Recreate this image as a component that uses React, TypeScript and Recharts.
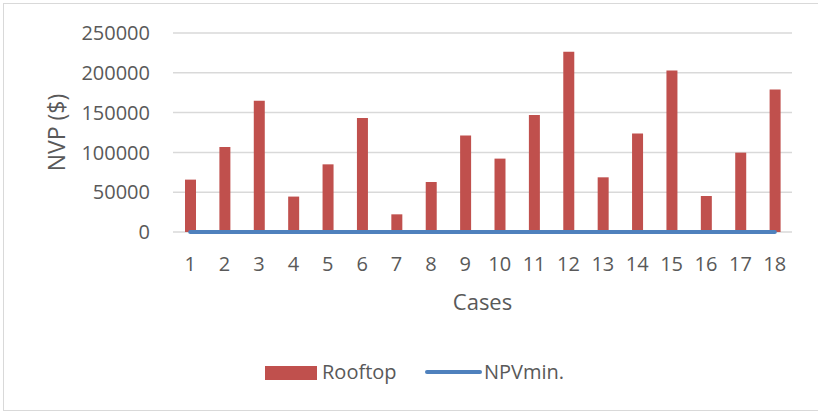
import { ComposedChart, Bar, Line, XAxis, YAxis, CartesianGrid } from "recharts";

const cases = ["1", "2", "3", "4", "5", "6", "7", "8", "9", "10", "11", "12", "13", "14", "15", "16", "17", "18"];
const rooftop = [
  65800, 106800, 165000, 44500, 85000, 143200, 22200, 62800, 121100,
  92200, 147000, 226600, 68700, 123600, 202800, 45200, 99700, 178900,
];
const npvMin = [0, 0, 0, 0, 0, 0, 0, 0, 0, 0, 0, 0, 0, 0, 0, 0, 0, 0];
const yTicks = [0, 50000, 100000, 150000, 200000, 250000];

const data = cases.map((c, i) => ({ name: c, rooftop: rooftop[i], npvMin: npvMin[i] }));

const FONT = "'Open Sans', sans-serif";
const TEXT = "#595959";

export default function App() {
  return (
    <div
      style={{
        position: "absolute",
        left: 0,
        top: 0,
        width: 818,
        height: 411,
        overflow: "hidden",
        background: "#fff",
        fontFamily: FONT,
      }}
    >
      {/* frame of the chart area */}
      <div
        style={{
          position: "absolute",
          left: 3,
          top: 3,
          width: 830,
          height: 406,
          border: "1px solid #d9d9d9",
        }}
      />
      <ComposedChart
        width={818}
        height={411}
        data={data}
        margin={{ top: 33, right: 26, bottom: 119, left: 0 }}
        style={{ position: "absolute", left: 0, top: 0, fontFamily: FONT }}
        barCategoryGap={0}
      >
        <CartesianGrid vertical={false} stroke="#d9d9d9" strokeWidth={1.5} />
        <XAxis
          dataKey="name"
          height={60}
          axisLine={false}
          tickLine={false}
          tickMargin={19}
          interval={0}
          tick={{ fontSize: 20, fill: TEXT }}
          label={{ value: "Cases", position: "center", dy: 40, fontSize: 22, fill: TEXT }}
        />
        <YAxis
          width={173}
          domain={[0, 250000]}
          ticks={yTicks}
          axisLine={false}
          tickLine={false}
          tickMargin={17}
          tick={{ fontSize: 20, fill: TEXT }}
          label={{ value: "NVP ($)", angle: -90, position: "center", dx: -30, fontSize: 23, fill: TEXT }}
        />
        <Bar dataKey="rooftop" fill="#c0504d" barSize={11} isAnimationActive={false} />
        <Line
          dataKey="npvMin"
          stroke="#4f81bd"
          strokeWidth={4}
          strokeLinecap="round"
          dot={false}
          activeDot={false}
          isAnimationActive={false}
        />
      </ComposedChart>
      {/* legend */}
      <div
        style={{
          position: "absolute",
          left: 265,
          top: 366,
          width: 52,
          height: 14,
          background: "#c0504d",
        }}
      />
      <div style={{ position: "absolute", left: 322, top: 358, fontSize: 20, color: TEXT, lineHeight: "28px" }}>
        Rooftop
      </div>
      <div
        style={{
          position: "absolute",
          left: 425,
          top: 370,
          width: 57,
          height: 4,
          borderRadius: 2,
          background: "#4f81bd",
        }}
      />
      <div style={{ position: "absolute", left: 484, top: 358, fontSize: 20, color: TEXT, lineHeight: "28px" }}>
        NPVmin.
      </div>
    </div>
  );
}
